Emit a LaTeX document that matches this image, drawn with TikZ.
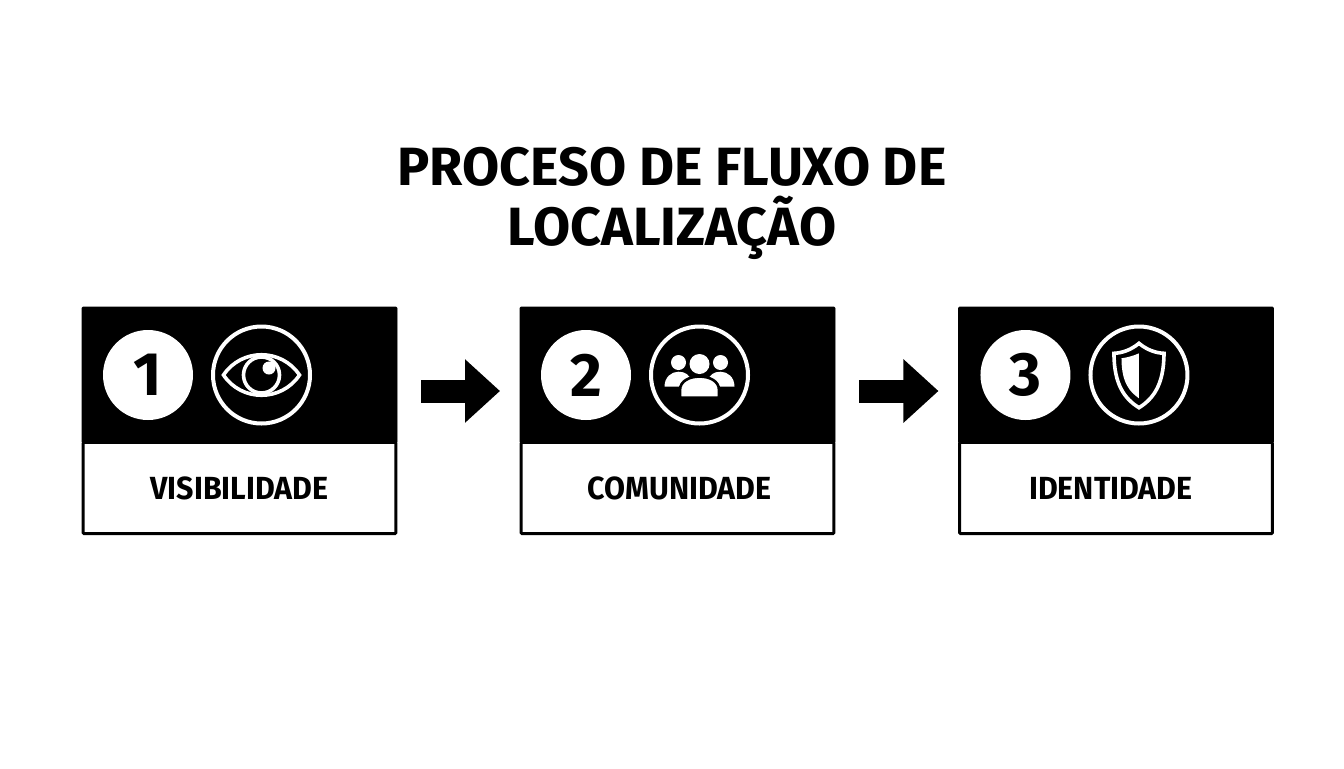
\documentclass[tikz,border=0pt]{standalone}
\usepackage{fontspec}
\setmainfont{Fira Sans}[BoldFont=* Bold]
\newfontfamily\titlefont{Fira Sans Bold}
\newfontfamily\labelfont{Fira Sans Bold}[FakeStretch=0.95]
\usetikzlibrary{positioning, arrows.meta}
\tikzset{
        cardhead/.style={rectangle, fill=black, draw=black, line width=0.5pt, rounded corners=0.8pt, outer sep=0pt, minimum width=236.25pt, minimum height=102pt},
        cardbody/.style={rectangle, fill=white, draw=black, line width=2.2pt, rounded corners=0.8pt, outer sep=0pt, inner sep=0pt, minimum width=234.5pt, minimum height=68.5pt, text=black, font=\labelfont\fontsize{24}{28}\selectfont},
        numdot/.style={circle, fill=white, outer sep=0pt, inner sep=0pt, minimum size=67.5pt, text=black, font=\titlefont\fontsize{46}{50}\selectfont},
        iconring/.style={circle, draw=white, line width=3pt, outer sep=0pt, inner sep=0pt, minimum size=72.75pt},
        iconline/.style={draw=white, line width=2.7pt, line join=miter},
        iconfill/.style={fill=white},
        peoplebody/.style={fill=white, draw=black, line width=2pt},
        flowarrow/.style={draw=black, line width=17.25pt, shorten <=18pt, shorten >=15pt, -{Triangle[length=26.25pt, width=46pt]}},
        titletext/.style={align=center, text=black, font=\titlefont\fontsize{40.4}{45}\selectfont}
          }

\begin{document}
\begin{tikzpicture}[x=0.75pt, y=-0.75pt]
      \useasboundingbox (0,0) rectangle (1344,768);

      \node[titletext] (title) at (672,203) {PROCESO DE FLUXO DE\\LOCALIZAÇÃO};

      % cards
      \node[cardhead] (head1) at (239.5,375) {};
      \node[cardbody, below=-0.5pt of head1.south] (body1) {VISIBILIDADE};
      \node[cardhead, right=92.25pt of head1] (head2) {};
      \node[cardbody, below=-0.5pt of head2.south] (body2) {\kern3pt COMUNIDADE};
      \node[cardhead, right=92.6pt of head2] (head3) {};
      \node[cardbody, below=-0.5pt of head3.south] (body3) {\kern-7.5pt IDENTIDADE};

      \node[numdot, right=15.75pt of head1.west] (num1) {1};
      \node[numdot, right=15.75pt of head2.west] (num2) {2};
      \node[numdot, right=16.5pt of head3.west] (num3) {3};

      \node[iconring, right=15pt of num1] (ring1) {};
      \node[iconring, right=15pt of num2] (ring2) {};
      \node[iconring, right=15pt of num3] (ring3) {};

      % eye
      \begin{scope}[shift={(ring1.center)}]
        \draw[iconline] (-38,0) .. controls (-20,-27) and (20,-27) .. (38,0) .. controls (20,27) and (-20,27) .. (-38,0) -- cycle;
        \draw[iconline] (0,0) circle [radius=18];
        \fill[iconfill] (7.5,-7) circle [radius=6.5];
      \end{scope}

      % people
      \begin{scope}[shift={(ring2.center)}]
        \fill[iconfill] (-21,-12.5) circle [radius=7.5];
        \fill[iconfill] (21,-12.5) circle [radius=7.5];
        \fill[iconfill] (0,-11) circle [radius=10];
        \fill[iconfill] (-35,11.7) .. controls (-35,2) and (-28,-3.3) .. (-21,-3.3) .. controls (-14,-3.3) and (-10,0) .. (-8,6) -- (-20,11.7) -- cycle;
        \fill[iconfill] (35,11.7) .. controls (35,2) and (28,-3.3) .. (21,-3.3) .. controls (14,-3.3) and (10,0) .. (8,6) -- (20,11.7) -- cycle;
        \filldraw[peoplebody] (-19.5,22.7) -- (-19.5,15) .. controls (-19.5,6) and (-10,1.5) .. (0,1.5) .. controls (10,1.5) and (19.5,6) .. (19.5,15) -- (19.5,22.7) -- cycle;
      \end{scope}

      % shield
      \begin{scope}[shift={(ring3.center)}]
        \draw[iconline] (0,-31.7) .. controls (-8,-25) and (-17,-22) .. (-25,-21.7) .. controls (-25,10) and (-14,24) .. (0,32.7) .. controls (14,24) and (25,10) .. (25,-21.7) .. controls (17,-22) and (8,-25) .. (0,-31.7) -- cycle;
        \fill[iconfill] (0,-21.7) .. controls (-6,-19) and (-12,-17.5) .. (-17.5,-16.7) .. controls (-17.5,8) and (-9,17) .. (0,23.3) -- cycle;
      \end{scope}

      % arrows between cards
      \coordinate (out1) at (head1.east |- 0,391);
      \coordinate (in2) at (head2.west |- 0,391);
      \coordinate (out2) at (head2.east |- 0,391);
      \coordinate (in3) at (head3.west |- 0,391);
      \draw[flowarrow] (out1) -- (in2);
      \draw[flowarrow] (out2) -- (in3);
\end{tikzpicture}
\end{document}
